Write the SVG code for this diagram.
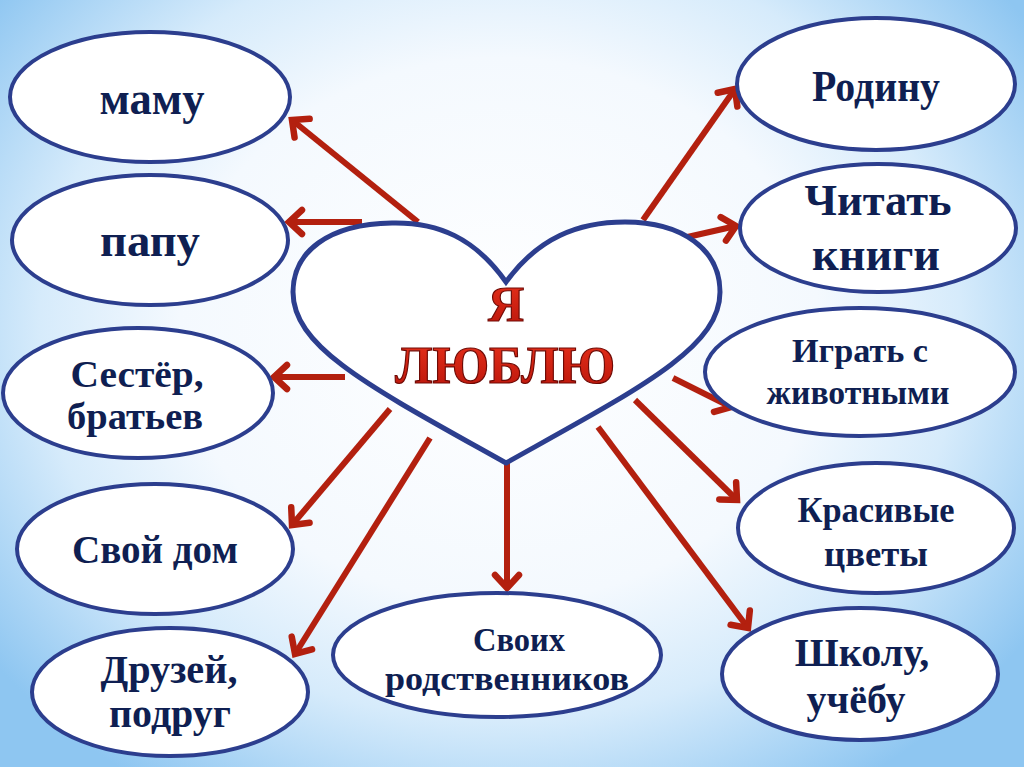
<svg xmlns="http://www.w3.org/2000/svg" width="1024" height="767" viewBox="0 0 1024 767">
<defs>
<radialGradient id="bg" cx="500" cy="330" r="640" gradientUnits="userSpaceOnUse" gradientTransform="translate(500 330) scale(1 0.85) translate(-500 -330)">
<stop offset="0" stop-color="#ffffff"/>
<stop offset="0.5" stop-color="#f4f9fe"/>
<stop offset="0.72" stop-color="#d6ebfb"/>
<stop offset="1" stop-color="#8ec6f1"/>
</radialGradient>
<linearGradient id="red" x1="0" y1="0" x2="0" y2="1">
<stop offset="0" stop-color="#e8321c"/>
<stop offset="1" stop-color="#b8140a"/>
</linearGradient>
<marker id="ah" markerUnits="userSpaceOnUse" markerWidth="40" markerHeight="40" refX="20" refY="20" orient="auto" viewBox="0 0 40 40">
<path d="M7,8 L20,20 L7,32" fill="none" stroke="#b3200f" stroke-width="6.5" stroke-linecap="round" stroke-linejoin="miter"/>
</marker>
</defs>
<style>
.node ellipse{fill:#ffffff;stroke:#2c3e8e;stroke-width:4}
.t{font-family:"Liberation Serif","Times New Roman",serif;font-weight:bold;fill:#0f1f52;text-anchor:middle}
.conn line{stroke:#b3200f;stroke-width:6;marker-end:url(#ah)}
.big{font-family:"Liberation Serif","Times New Roman",serif;font-weight:bold;fill:url(#red);stroke:#6e0a05;stroke-width:1.2;text-anchor:middle}
</style>
<rect width="1024" height="767" fill="url(#bg)"/>

<g class="conn">
<line x1="418" y1="222" x2="292" y2="120"/>
<line x1="362" y1="222" x2="289" y2="222"/>
<line x1="345" y1="377" x2="274" y2="377"/>
<line x1="390" y1="409" x2="292" y2="525"/>
<line x1="430" y1="438" x2="295" y2="654"/>
<line x1="507" y1="463" x2="507" y2="588"/>
<line x1="643" y1="220" x2="735" y2="89"/>
<line x1="683" y1="238" x2="736" y2="226"/>
<line x1="673" y1="378" x2="731" y2="407"/>
<line x1="635" y1="400" x2="737" y2="500"/>
<line x1="598" y1="427" x2="748" y2="628"/>
</g>

<g id="heart" class="node">
<path d="M506,282 C475,238 438,222 392,223 C328,224 293,252 293,292 C293,348 372,388 506,463 C640,388 720,348 720,292 C720,250 683,222 625,222 C578,222 538,238 506,282 Z" fill="#ffffff" stroke="#2c3e8e" stroke-width="5"/>
<text class="big" x="506" y="321" font-size="50">Я</text>
<text class="big" x="505" y="383" font-size="52" textLength="220" lengthAdjust="spacingAndGlyphs">ЛЮБЛЮ</text>
</g>

<g id="n-mamu" class="node">
<ellipse cx="150" cy="97" rx="140" ry="65"/>
<text class="t" x="152" y="114" font-size="46" textLength="105" lengthAdjust="spacingAndGlyphs">маму</text>
</g>
<g id="n-papu" class="node">
<ellipse cx="150" cy="240" rx="138" ry="65"/>
<text class="t" x="150" y="256" font-size="46" textLength="100" lengthAdjust="spacingAndGlyphs">папу</text>
</g>
<g id="n-sester" class="node">
<ellipse cx="138" cy="393" rx="135" ry="65"/>
<text class="t" x="137" y="387" font-size="38" textLength="133" lengthAdjust="spacingAndGlyphs">Сестёр,</text>
<text class="t" x="135" y="429" font-size="38" textLength="136" lengthAdjust="spacingAndGlyphs">братьев</text>
</g>
<g id="n-dom" class="node">
<ellipse cx="155" cy="549" rx="138" ry="65"/>
<text class="t" x="155" y="563" font-size="39" textLength="166" lengthAdjust="spacingAndGlyphs">Свой дом</text>
</g>
<g id="n-druzei" class="node">
<ellipse cx="170" cy="692" rx="138" ry="64"/>
<text class="t" x="169" y="683" font-size="40" textLength="137" lengthAdjust="spacingAndGlyphs">Друзей,</text>
<text class="t" x="170" y="727" font-size="40">подруг</text>
</g>
<g id="n-rodstv" class="node">
<ellipse cx="497" cy="655" rx="164" ry="62"/>
<text class="t" x="519" y="651" font-size="33" textLength="92" lengthAdjust="spacingAndGlyphs">Своих</text>
<text class="t" x="507" y="690" font-size="33" textLength="244" lengthAdjust="spacingAndGlyphs">родственников</text>
</g>
<g id="n-rodinu" class="node">
<ellipse cx="876" cy="84" rx="139" ry="66"/>
<text class="t" x="876" y="101" font-size="44" textLength="128" lengthAdjust="spacingAndGlyphs">Родину</text>
</g>
<g id="n-chitat" class="node">
<ellipse cx="878" cy="228" rx="138" ry="64"/>
<text class="t" x="878" y="215" font-size="45" textLength="147" lengthAdjust="spacingAndGlyphs">Читать</text>
<text class="t" x="876" y="270" font-size="46" textLength="128" lengthAdjust="spacingAndGlyphs">книги</text>
</g>
<g id="n-igrat" class="node">
<ellipse cx="860" cy="372" rx="155" ry="64"/>
<text class="t" x="860" y="362" font-size="34" textLength="136" lengthAdjust="spacingAndGlyphs">Играть с</text>
<text class="t" x="858" y="404" font-size="34" textLength="183" lengthAdjust="spacingAndGlyphs">животными</text>
</g>
<g id="n-cvety" class="node">
<ellipse cx="876" cy="528" rx="138" ry="65"/>
<text class="t" x="876" y="522" font-size="35" textLength="157" lengthAdjust="spacingAndGlyphs">Красивые</text>
<text class="t" x="876" y="566" font-size="35" textLength="104" lengthAdjust="spacingAndGlyphs">цветы</text>
</g>
<g id="n-shkolu" class="node">
<ellipse cx="860" cy="674" rx="138" ry="66"/>
<text class="t" x="862" y="666" font-size="40">Школу,</text>
<text class="t" x="856" y="713" font-size="40">учёбу</text>
</g>
</svg>
